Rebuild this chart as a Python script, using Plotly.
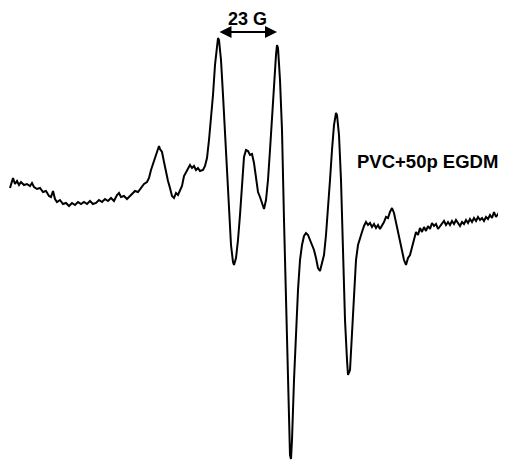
import plotly.graph_objects as go

# Magnetic-field position (arbitrary units across the sweep)
field = [10, 12, 13, 15, 17, 19, 21, 24, 27, 30, 32, 34, 37, 40, 43, 46, 49, 51, 53, 55,
         57, 60, 63, 66, 69, 72, 75, 78, 81, 84, 87, 90, 93, 96, 99, 102, 105, 108, 111, 114,
         117, 119, 121, 124, 127, 130, 133, 135, 138, 141, 144, 147, 149, 151, 153, 155, 157, 159, 160, 162,
         164, 166, 168, 170, 172, 174, 176, 178, 180, 182, 184, 186, 188, 190, 192, 194, 196, 198, 200, 203,
         205, 207, 209, 211, 213, 215, 217, 218, 219, 221, 223, 225, 227, 229, 231, 233, 234, 236, 238, 240,
         242, 244, 246, 248, 250, 252, 254, 256, 258, 260, 262, 264, 266, 268, 270, 272, 274, 276, 277, 278,
         280, 282, 284, 286, 288, 289, 290, 291, 292, 294, 296, 298, 300, 302, 304, 306, 308, 310, 312, 314,
         316, 318, 320, 322, 324, 326, 328, 330, 332, 334, 336, 337, 339, 341, 343, 345, 347, 348, 350, 352,
         354, 356, 358, 360, 362, 364, 366, 368, 370, 372, 374, 376, 378, 380, 382, 384, 386, 388, 390, 392,
         394, 396, 398, 400, 402, 404, 406, 408, 410, 412, 414, 416, 418, 420, 422, 424, 426, 428, 430, 432,
         434, 436, 438, 440, 442, 444, 446, 448, 450, 452, 454, 456, 458, 460, 462, 464, 466, 468, 470, 472,
         474, 476, 478, 480, 482, 484, 486, 488, 490, 492, 494, 496, 498, 500, 502, 504, 505]

# ESR first-derivative signal (arbitrary units)
signal = [12, 20, 22, 16, 19, 15, 18, 15, 16, 14, 17, 13, 11, 12, 8, 9, 4, 3, 9, 1,
          -2, 0, -4, -3, -6, -3, -5, -2, -4, -2, -4, -1, -4, -3, 0, -2, 1, -1, 2, -1,
          5, 7, 3, 4, 1, 4, 7, 9, 8, 12, 16, 18, 22, 30, 36, 44, 50, 54, 51, 48,
          38, 28, 19, 12, 4, 2, 7, 5, 10, 14, 24, 28, 32, 35, 32, 34, 30, 32, 29, 30,
          34, 42, 60, 80, 105, 135, 158, 162, 160, 140, 105, 65, 25, -15, -45, -62, -65, -58, -40, -15,
          20, 43, 50, 49, 45, 46, 37, 20, 8, 3, -2, -9, 0, 20, 50, 85, 115, 145, 155, 152,
          120, 70, -20, -100, -180, -230, -255, -259, -240, -180, -130, -90, -60, -45, -36, -33, -35, -40, -45, -50,
          -58, -68, -71, -62, -55, -35, -10, 20, 50, 75, 87, 85, 65, 20, -50, -120, -160, -175, -170, -130,
          -90, -60, -45, -37, -32, -26, -22, -25, -23, -27, -24, -28, -25, -29, -26, -22, -17, -18, -12, -8,
          -13, -22, -32, -42, -52, -60, -65, -58, -55, -47, -40, -32, -35, -28, -32, -27, -31, -26, -29, -23,
          -26, -24, -29, -26, -23, -21, -25, -22, -25, -21, -24, -20, -23, -26, -22, -24, -20, -23, -19, -22,
          -18, -21, -17, -20, -18, -21, -17, -19, -15, -18, -12, -17, -14, -16, -13, -16, -14]

splitting_label = "23 G"
splitting_from = 218
splitting_to = 277
splitting_level = 168
sample_label = "PVC+50p EGDM"

fig = go.Figure()
fig.add_trace(go.Scatter(x=field, y=signal, mode="lines",
                         line=dict(color="black", width=2), showlegend=False,
                         hoverinfo="skip"))

fig.add_annotation(x=splitting_to, y=splitting_level, ax=splitting_from, ay=splitting_level,
                   xref="x", yref="y", axref="x", ayref="y", text="",
                   showarrow=True, arrowhead=2, arrowside="end+start",
                   arrowsize=1.2, arrowwidth=2, arrowcolor="black")
fig.add_annotation(x=(splitting_from + splitting_to) / 2, y=splitting_level + 13,
                   xref="x", yref="y", text=splitting_label, showarrow=False,
                   font=dict(family="Liberation Sans", size=18, color="black", weight="bold"))
fig.add_annotation(x=355, y=39, xref="x", yref="y", text=sample_label, showarrow=False,
                   xanchor="left",
                   font=dict(family="Liberation Sans", size=18.5, color="black", weight="bold"))

fig.update_layout(width=506, height=461, margin=dict(l=0, r=0, t=0, b=0),
                  plot_bgcolor="white", paper_bgcolor="white",
                  xaxis=dict(range=[8, 514], visible=False),
                  yaxis=dict(range=[-269, 192], visible=False))
fig.write_html("out.html")
